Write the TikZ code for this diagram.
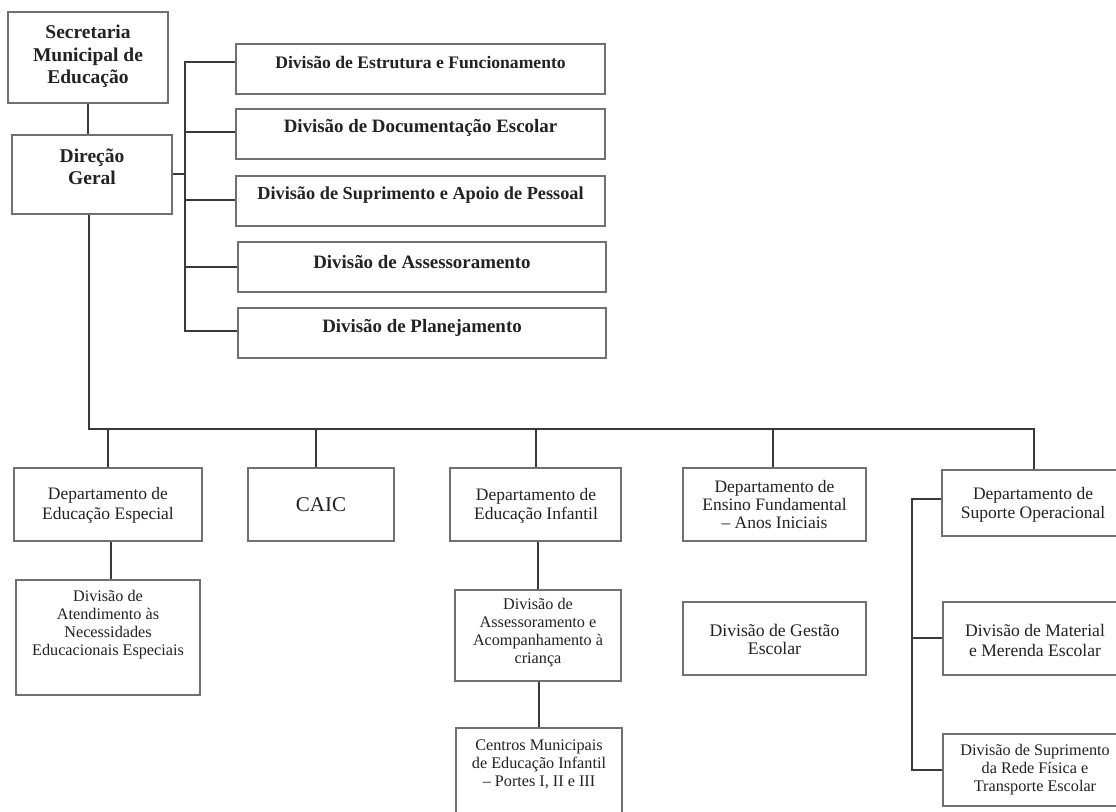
\documentclass[tikz,border=0pt]{standalone}
\usepackage{fontspec}
\setmainfont{Liberation Serif}
\definecolor{boxc}{HTML}{707070}
\definecolor{linec}{HTML}{3A3A3A}
\definecolor{txtc}{HTML}{222222}
\begin{document}
\begin{tikzpicture}[x=1pt,y=-1pt,
  box/.style={draw=boxc, line width=1.4pt, inner sep=0pt, fill=none},
  conn/.style={draw=linec, line width=1.5pt},
  txt/.style={align=center, inner sep=0pt, text=txtc, font=\fontsize{17.5}{19.5}\selectfont},
  stxt/.style={align=center, inner sep=0pt, text=txtc, font=\fontsize{16.2}{18}\selectfont},
  btxt/.style={align=center, inner sep=0pt, text=txtc, font=\bfseries\fontsize{18.3}{22}\selectfont},
  htxt/.style={align=center, inner sep=0pt, text=txtc, font=\bfseries\fontsize{19.5}{22.5}\selectfont}]
\useasboundingbox[fill=white] (0,0) rectangle (1116,811);

% top level
\node[box, minimum width=160pt, minimum height=91pt] (sec) at (88,57.5) {};
\node[htxt] (sect) at (88,56.5) {Secretaria\\Municipal de\\Educação};
\node[box, minimum width=160pt, minimum height=79pt] (dir) at (92,174.5) {};
\node[htxt] (dirt) at (92,167) {Direção\\Geral};

% right divisions
\node[box, minimum width=369pt, minimum height=50pt] (r1) at (420.5,69) {};
\node[btxt, font=\bfseries\fontsize{17.6}{22}\selectfont] (r1t) at (420.5,62) {Divisão de Estrutura e Funcionamento};
\node[box, minimum width=369pt, minimum height=50pt] (r2) at (420.5,134) {};
\node[btxt, font=\bfseries\fontsize{18.9}{22}\selectfont] (r2t) at (420.5,128) {Divisão de Documentação Escolar};
\node[box, minimum width=369pt, minimum height=50pt] (r3) at (420.5,201) {};
\node[btxt] (r3t) at (420.5,195) {Divisão de Suprimento e Apoio de Pessoal};
\node[box, minimum width=368pt, minimum height=50pt] (r4) at (422,267) {};
\node[btxt, font=\bfseries\fontsize{18.9}{22}\selectfont] (r4t) at (422,262) {Divisão de Assessoramento};
\node[box, minimum width=368pt, minimum height=50pt] (r5) at (422,333) {};
\node[btxt, font=\bfseries\fontsize{18.9}{22}\selectfont] (r5t) at (422,328) {Divisão de Planejamento};

% departments
\node[box, minimum width=188pt, minimum height=73pt] (ee) at (108,504.5) {};
\node[txt] (eet) at (108,505.5) {Departamento de\\Educação Especial};
\node[box, minimum width=146pt, minimum height=73pt] (caic) at (321,504.5) {};
\node[txt, font=\fontsize{21}{23}\selectfont] (caict) at (321,505) {CAIC};
\node[box, minimum width=171pt, minimum height=73pt] (ei) at (535.5,504.5) {};
\node[txt] (eit) at (536,506) {Departamento de\\Educação Infantil};
\node[box, minimum width=183pt, minimum height=73pt] (ef) at (774.5,504.5) {};
\node[txt, font=\fontsize{17.5}{18}\selectfont] (eft) at (774.5,505) {Departamento de\\Ensino Fundamental\\– Anos Iniciais};
\node[box, minimum width=178pt, minimum height=66pt] (so) at (1031,503) {};
\node[txt] (sot) at (1033,505) {Departamento de\\Suporte Operacional};

% sub divisions
\node[box, minimum width=184pt, minimum height=115pt] (at) at (108,637.5) {};
\node[stxt] (att) at (108,624.5) {Divisão de\\Atendimento às\\Necessidades\\Educacionais Especiais};
\node[box, minimum width=166pt, minimum height=91pt] (as) at (538,635.5) {};
\node[stxt] (ast) at (538,633) {Divisão de\\Assessoramento e\\Acompanhamento à\\criança};
\node[box, minimum width=166pt, minimum height=92pt] (cm) at (539,774) {};
\node[stxt] (cmt) at (539,764) {Centros Municipais\\de Educação Infantil\\– Portes I, II e III};
\node[box, minimum width=183pt, minimum height=73pt] (ge) at (774.5,638.5) {};
\node[txt, font=\fontsize{17.7}{18.5}\selectfont] (get) at (774.5,639.5) {Divisão de Gestão\\Escolar};
\node[box, minimum width=177pt, minimum height=73pt] (mm) at (1031.5,638.5) {};
\node[txt, font=\fontsize{17.6}{20}\selectfont] (mmt) at (1035,640) {Divisão de Material\\e Merenda Escolar};
\node[box, minimum width=177pt, minimum height=72pt] (ss) at (1031.5,770) {};
\node[stxt] (sst) at (1035,770) {Divisão de Suprimento\\da Rede Física e\\Transporte Escolar};

% connectors: top
\draw[conn] (sec.south) -- (sec.south |- dir.north);
\coordinate (tb) at (185,174);
\coordinate (t1) at (185,62);
\coordinate (t2) at (185,132);
\coordinate (t3) at (185,200);
\coordinate (t4) at (185,267);
\coordinate (t5) at (185,331);
\draw[conn] (dir.east |- tb) -- (tb);
\draw[conn] (t1 -| r1.west) -- (t1) -- (t5) -- (t5 -| r5.west);
\draw[conn] (t2) -- (t2 -| r2.west);
\draw[conn] (t3) -- (t3 -| r3.west);
\draw[conn] (t4) -- (t4 -| r4.west);

% connectors: bottom bus
\coordinate (bl) at (89,429);
\coordinate (br) at (1034,429);
\draw[conn] ([xshift=-3pt]dir.south) -- (bl) -- (br) -- (br |- so.north);
\draw[conn] (ee.north) -- (ee.north |- bl);
\draw[conn] ([xshift=-5pt]caic.north) -- ([xshift=-5pt]caic.north |- bl);
\draw[conn] ([xshift=0.5pt]ei.north) -- ([xshift=0.5pt]ei.north |- bl);
\draw[conn] ([xshift=-1.5pt]ef.north) -- ([xshift=-1.5pt]ef.north |- bl);

% sub connectors
\draw[conn] ([xshift=3pt]at.north) -- ([xshift=3pt]at.north |- ee.south);
\draw[conn] (as.north) -- (as.north |- ei.south);
\draw[conn] (cm.north |- as.south) -- (cm.north);

\coordinate (s1) at (912,499);
\coordinate (s2) at (912,638);
\coordinate (s3) at (912,770);
\draw[conn] (s1 -| so.west) -- (s1) -- (s3) -- (s3 -| ss.west);
\draw[conn] (s2) -- (s2 -| mm.west);
\end{tikzpicture}
\end{document}
